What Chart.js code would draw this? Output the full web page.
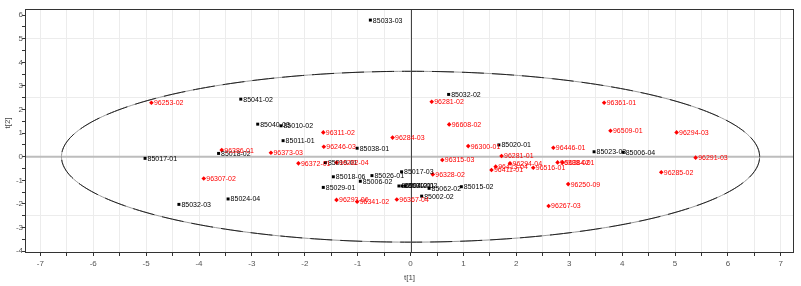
<!DOCTYPE html>
<html>
<head>
<meta charset="utf-8">
<script src="https://cdn.jsdelivr.net/npm/chart.js@4.4.1/dist/chart.umd.min.js"></script>
<style>
  body { margin: 0; background: #fff; }
  #chart-wrap { width: 801px; height: 286px; }
</style>
</head>
<body>
<div id="chart-wrap"><canvas id="score-plot" width="801" height="286"></canvas></div>
<script>
// Axis tick labels
const xTickLabels = [-7, -6, -5, -4, -3, -2, -1, 0, 1, 2, 3, 4, 5, 6, 7];
const yTickLabels = [-4, -3, -2, -1, 0, 1, 2, 3, 4, 5, 6];

// Group 85xxx (black squares)
const blackNames = ['85033-03', '85041-02', '85032-02', '85040-03', '85010-02', '85011-01', '85038-01',
    '85020-01', '85023-03', '85006-04', '85017-01', '85018-02', '85019-01', '85018-06', '85026-01',
    '85006-02', '85029-01', '85017-03', '85004-01', '85030-01', '85012-02', '85062-02', '85015-02',
    '85002-02', '85024-04', '85032-03'];
const blackX = [-0.76, -3.21, 0.72, -2.89, -2.45, -2.41, -1.01, 1.67, 3.47, 4.02, -5.02, -3.63, -1.61,
    -1.46, -0.73, -0.95, -1.65, -0.17, -0.22, -0.16, -0.10, 0.35, 0.96, 0.21, -3.45, -4.38];
const blackY = [5.79, 2.44, 2.64, 1.38, 1.31, 0.68, 0.36, 0.50, 0.21, 0.19, -0.07, 0.14, -0.25,
    -0.85, -0.80, -1.04, -1.30, -0.64, -1.24, -1.24, -1.24, -1.34, -1.27, -1.67, -1.79, -2.02];

// Group 96xxx (red diamonds)
const redNames = ['96253-02', '96281-02', '96361-01', '96608-02', '96311-02', '96509-01', '96294-03',
    '96284-03', '96246-03', '96300-01', '96386-01', '96373-03', '96446-01', '96291-03', '96281-01',
    '96315-03', '96282-04', '96372-01', '96294-04', '96413-04', '96411-01', '96516-01', '96388-02',
    '96384-01', '96328-02', '96285-02', '96250-09', '96307-02', '96293-06', '96341-02', '96367-04',
    '96267-03'];
const redX = [-4.90, 0.40, 3.66, 0.73, -1.65, 3.78, 5.03, -0.34, -1.64, 1.09, -3.57, -2.64, 2.70, 5.39,
    1.72, 0.60, -1.40, -2.12, 1.88, 1.61, 1.53, 2.32, 2.78, 2.87, 0.42, 4.74, 2.98, -3.91, -1.40, -1.01,
    -0.26, 2.61];
const redY = [2.29, 2.33, 2.29, 1.37, 1.03, 1.10, 1.03, 0.81, 0.42, 0.45, 0.28, 0.17, 0.38, -0.04,
    0.03, -0.14, -0.25, -0.28, -0.28, -0.42, -0.56, -0.47, -0.24, -0.24, -0.75, -0.66, -1.16, -0.92,
    -1.83, -1.91, -1.81, -2.09];

// Hotelling ellipse semi-axes
const ellipseA = 6.6;
const ellipseB = 3.62;

const labelFont = '7px "Liberation Sans", Arial, sans-serif';

function toPoints(xs, ys) {
    return xs.map((x, i) => ({ x: x, y: ys[i] }));
}

function halfSteps(labels) {
    const out = [];
    for (let i = 0; i < labels.length; i++) {
        out.push({ value: labels[i] });
        if (i < labels.length - 1) out.push({ value: (labels[i] + labels[i + 1]) / 2 });
    }
    return out;
}

const scorePlotExtras = {
    id: 'scorePlotExtras',
    beforeDatasetsDraw(chart) {
        const { ctx, chartArea: a, scales: { x, y } } = chart;
        ctx.save();
        ctx.beginPath();
        ctx.rect(a.left, a.top, a.right - a.left, a.bottom - a.top);
        ctx.clip();

        // zero lines
        const y0 = y.getPixelForValue(0);
        ctx.strokeStyle = '#bdbdbd';
        ctx.lineWidth = 2;
        ctx.beginPath();
        ctx.moveTo(a.left, y0);
        ctx.lineTo(a.right, y0);
        ctx.stroke();

        const x0 = Math.round(x.getPixelForValue(0)) + 0.5;
        ctx.strokeStyle = '#444';
        ctx.lineWidth = 1;
        ctx.beginPath();
        ctx.moveTo(x0, a.top);
        ctx.lineTo(x0, a.bottom);
        ctx.stroke();

        // ellipse
        ctx.beginPath();
        for (let k = 0; k <= 360; k++) {
            const t = k * Math.PI / 180;
            const px = x.getPixelForValue(ellipseA * Math.cos(t));
            const py = y.getPixelForValue(ellipseB * Math.sin(t));
            if (k === 0) ctx.moveTo(px, py); else ctx.lineTo(px, py);
        }
        ctx.strokeStyle = '#999';
        ctx.lineWidth = 1;
        ctx.stroke();
        ctx.setLineDash([22, 8]);
        ctx.strokeStyle = '#222';
        ctx.stroke();
        ctx.restore();
    },
    afterDatasetsDraw(chart) {
        const { ctx, chartArea: a } = chart;
        ctx.save();

        // point labels
        ctx.font = labelFont;
        ctx.textBaseline = 'middle';
        ctx.textAlign = 'left';
        chart.data.datasets.forEach((ds, i) => {
            const meta = chart.getDatasetMeta(i);
            ctx.fillStyle = ds.labelColor;
            meta.data.forEach((pt, j) => {
                ctx.fillText(ds.names[j], pt.x + 2.5, pt.y + 0.5);
            });
        });

        // frame
        ctx.strokeStyle = '#333';
        ctx.lineWidth = 1;
        ctx.strokeRect(Math.round(a.left) + 0.5, Math.round(a.top) + 0.5,
            Math.round(a.right - a.left) - 1, Math.round(a.bottom - a.top) - 1);

        // axis titles
        ctx.fillStyle = '#444';
        ctx.font = '8px "Liberation Sans", Arial, sans-serif';
        ctx.textAlign = 'center';
        ctx.fillText('t[1]', (a.left + a.right) / 2, 278);
        ctx.translate(8, 123);
        ctx.rotate(-Math.PI / 2);
        ctx.fillText('t[2]', 0, 0);
        ctx.restore();
    }
};

new Chart(document.getElementById('score-plot'), {
    type: 'scatter',
    data: {
        datasets: [{
            label: '85',
            names: blackNames,
            labelColor: '#000',
            data: toPoints(blackX, blackY),
            pointStyle: 'rect',
            pointRadius: 2.1,
            backgroundColor: '#000',
            borderColor: '#000',
            borderWidth: 0
        }, {
            label: '96',
            names: redNames,
            labelColor: '#ff0000',
            data: toPoints(redX, redY),
            pointStyle: 'rectRot',
            pointRadius: 2.3,
            backgroundColor: '#ff0000',
            borderColor: '#ff0000',
            borderWidth: 0
        }]
    },
    options: {
        responsive: false,
        animation: false,
        events: [],
        layout: { padding: { top: 9, right: 7, left: 0, bottom: 0 } },
        plugins: { legend: { display: false }, tooltip: { enabled: false } },
        scales: {
            x: {
                min: -7.29,
                max: 7.25,
                afterBuildTicks: s => { s.ticks = halfSteps(xTickLabels); },
                afterFit: s => { s.height = 33; },
                border: { display: false },
                grid: {
                    color: '#ececec',
                    tickColor: '#333',
                    tickLength: 3
                },
                ticks: {
                    autoSkip: false,
                    maxRotation: 0,
                    padding: 3,
                    color: '#555',
                    font: { size: 8, family: '"Liberation Sans", Arial, sans-serif' },
                    callback: v => xTickLabels.includes(v) ? String(v) : ''
                }
            },
            y: {
                min: -4.08,
                max: 6.26,
                afterBuildTicks: s => { s.ticks = halfSteps(yTickLabels); },
                afterFit: s => { s.width = 25; },
                border: { display: false },
                grid: {
                    color: ctx => (ctx.tick && ctx.tick.value !== 0 && ctx.tick.value % 2.5 === 0) ? '#ececec' : 'rgba(0,0,0,0)',
                    tickColor: '#333',
                    tickLength: 3
                },
                ticks: {
                    autoSkip: false,
                    padding: -1,
                    color: '#555',
                    font: { size: 8, family: '"Liberation Sans", Arial, sans-serif' },
                    callback: v => yTickLabels.includes(v) ? String(v) : ''
                }
            }
        }
    },
    plugins: [scorePlotExtras]
});
</script>
</body>
</html>
